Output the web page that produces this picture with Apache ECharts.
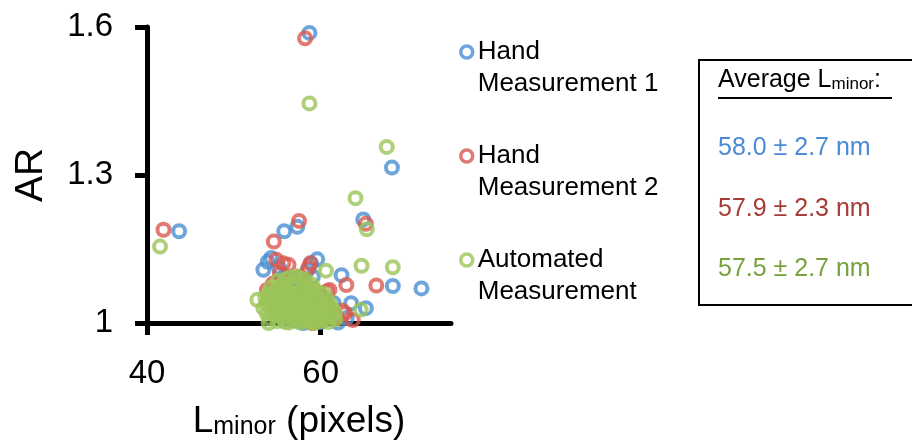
<!DOCTYPE html>
<html>
<head>
<meta charset="utf-8">
<script src="https://cdn.jsdelivr.net/npm/echarts@6/dist/echarts.min.js"></script>
<style>
html,body{margin:0;padding:0;background:#fff;}
#chart{width:912px;height:446px;}
</style>
</head>
<body>
<div id="chart"></div>
<script>
// ---- Data ----
const seriesNames = ['Hand\nMeasurement 1', 'Hand\nMeasurement 2', 'Automated\nMeasurement'];
const xTicks = [40, 60];
const yTicks = [1, 1.3, 1.6];
const averageTitle = 'Average L';
const averageLines = ['58.0 ± 2.7 nm', '57.9 ± 2.3 nm', '57.5 ± 2.7 nm'];

const hand1 = [
  [58.7,1.588],[68.2,1.315],[43.7,1.186],[64.9,1.210],[55.8,1.186],[57.3,1.195],
  [68.3,1.075],[71.6,1.070],[62.4,1.097],[63.5,1.040],[65.2,1.030],[62.0,1.001],
  [53.4,1.108],[53.9,1.124],[54.3,1.132],[59.6,1.129],[58.9,1.121],[58.5,1.107],
  [59.1,1.094],[55.2,1.112],[56.8,1.088],[57.8,1.083],[55.8,1.095],[56.0,1.078],
  [57.0,1.068],[58.1,1.060],[55.5,1.050],[56.5,1.040],[57.5,1.030],[58.5,1.020],
  [59.6,1.041],[60.5,1.031],[61.0,1.015],[55.0,1.020],[56.0,1.010],[57.0,1.005],
  [58.0,1.000],[59.0,1.010],[60.0,1.002],[54.5,1.062],[60.0,1.052],[61.5,1.040],
  [63.0,1.010]
];
const hand2 = [
  [58.2,1.577],[41.9,1.189],[57.5,1.207],[54.6,1.165],[65.2,1.201],[66.4,1.076],
  [62.95,1.077],[60.7,1.064],[54.9,1.128],[55.7,1.121],[56.3,1.118],[58.8,1.121],
  [55.3,1.100],[57.6,1.094],[62.8,1.020],[63.7,1.006],[53.8,1.067],[61.0,1.067],
  [60.1,1.043],[61.9,1.010],[58.6,1.112],[56.0,1.085],[57.0,1.078],[58.0,1.070],
  [59.0,1.060],[60.0,1.055],[60.5,1.040],[61.0,1.030],[61.5,1.012],[60.0,1.005],
  [59.0,1.000],[56.5,1.060],[55.5,1.070],[54.5,1.080],[57.5,1.050],[58.5,1.040],
  [56.0,1.030],[55.0,1.040],[57.0,1.010],[58.0,1.020],[59.5,1.025],[60.8,1.016],
  [62.5,1.025]
];
const automated = [
  [58.7,1.445],[67.6,1.357],[64.0,1.253],[65.3,1.190],[41.5,1.155],[64.7,1.116],
  [68.3,1.113],[60.6,1.106],[52.7,1.047],[64.6,1.027],[61.7,1.008],[53.4,1.030],
  [53.8,1.019],
  [55.1,1.086],[55.9,1.088],[56.7,1.083],[57.3,1.081],[58.2,1.079],[54.3,1.072],
  [55.4,1.074],[56.1,1.069],[57.0,1.071],[57.9,1.066],[58.8,1.070],[59.6,1.062],
  [54.0,1.060],[54.9,1.057],[55.7,1.061],[56.5,1.055],[57.4,1.058],[58.3,1.052],
  [59.1,1.056],[60.1,1.049],[53.9,1.046],[54.6,1.042],[55.3,1.048],[56.2,1.044],
  [57.0,1.039],[57.8,1.045],[58.6,1.041],[59.4,1.038],[60.4,1.036],[54.2,1.033],
  [55.0,1.029],[55.8,1.034],[56.6,1.027],[57.5,1.031],[58.3,1.026],[59.0,1.030],
  [59.9,1.024],[60.8,1.027],[54.5,1.018],[55.4,1.015],[56.2,1.020],[57.1,1.013],
  [57.9,1.017],[58.7,1.011],[59.6,1.016],[60.3,1.012],[61.1,1.018],[55.0,1.004],
  [55.9,1.002],[56.8,1.006],[57.6,1.001],[58.5,1.003],[59.3,1.000],[60.1,1.004],
  [60.9,1.002],[56.4,1.092],[57.7,1.090],[59.0,1.078],[60.7,1.050],[61.3,1.030],
  [61.4,1.012],[54.1,1.009],[56.0,1.076],[58.0,1.035],[57.2,1.022],
  [54.7,1.065],[55.6,1.080],[56.3,1.062],[57.1,1.050],[58.0,1.058],[58.9,1.047],
  [59.8,1.033],[60.5,1.020],[59.5,1.006],[58.1,1.008],[56.9,1.035],[56.0,1.024],
  [55.2,1.037],[54.4,1.050],[53.7,1.038],[55.6,1.009],[56.3,1.001],[57.3,1.044],
  [58.4,1.015],[59.2,1.021],[60.0,1.040],[57.6,1.064],[56.8,1.074],[55.0,1.068],
  [54.8,1.025],[57.4,1.007],[58.8,1.033],[59.7,1.048],[61.6,1.022],[53.6,1.052],
  [55.7,1.052],[56.9,1.018],[58.2,1.088],[59.3,1.068],[60.3,1.060],[61.0,1.040],
  [54.0,1.000],[58.9,1.002],[60.6,1.008],[57.2,1.095]
];

// ---- Styling ----
const FONT = '"Liberation Sans", Arial, sans-serif';
const markerColors = ['#4a90d2', '#d9594f', '#9bc459'];
const textColors = ['#4a8ad6', '#a53c37', '#76a13c'];

function scatter(name, data, color) {
  return {
    type: 'scatter',
    name: name,
    data: data,
    symbol: 'circle',
    symbolSize: 12,
    itemStyle: { color: 'transparent', borderColor: color, borderWidth: 4 },
    emphasis: { disabled: true }
  };
}

const chart = echarts.init(document.getElementById('chart'), null, { renderer: 'canvas' });
chart.setOption({
  animation: false,
  backgroundColor: '#ffffff',
  grid: { left: 147, top: 27, width: 304, height: 296, containLabel: false },
  xAxis: {
    type: 'value', min: 40, max: 75, interval: 20,
    name: '{m|L}{s|minor}{m| (pixels)}',
    nameLocation: 'middle', nameGap: 80,
    nameTextStyle: {
      fontFamily: FONT, color: '#000',
      rich: {
        m: { fontSize: 37, fontFamily: FONT, color: '#000', verticalAlign: 'bottom' },
        s: { fontSize: 25, fontFamily: FONT, color: '#000', verticalAlign: 'bottom' }
      }
    },
    splitLine: { show: false },
    axisLine: { show: true, onZero: false, lineStyle: { color: '#000', width: 5 } },
    axisTick: { show: true, inside: false, length: 12, customValues: xTicks, lineStyle: { color: '#000', width: 5 } },
    axisLabel: { customValues: xTicks, fontSize: 33, fontFamily: FONT, color: '#000', margin: 34 }
  },
  yAxis: {
    type: 'value', min: 1, max: 1.6, interval: 0.3,
    name: 'AR', nameLocation: 'middle', nameGap: 96, nameRotate: 90,
    nameTextStyle: { fontSize: 39, fontFamily: FONT, color: '#000' },
    splitLine: { show: false },
    axisLine: { show: true, onZero: false, lineStyle: { color: '#000', width: 5 } },
    axisTick: { show: true, inside: false, length: 12, customValues: yTicks, lineStyle: { color: '#000', width: 5 } },
    axisLabel: { customValues: yTicks, fontSize: 33, fontFamily: FONT, color: '#000', margin: 34 }
  },
  legend: {
    orient: 'vertical', left: 459, top: 4, padding: 0, itemGap: 8,
    itemWidth: 12, itemHeight: 12, icon: 'circle',
    itemStyle: { borderWidth: 3.5, color: 'transparent' },
    selectedMode: false,
    formatter: function (name) { return ' \n' + name; },
    textStyle: { fontSize: 26, fontFamily: FONT, color: '#000', lineHeight: 32 },
    data: seriesNames
  },
  series: [
    scatter(seriesNames[0], hand1, markerColors[0]),
    scatter(seriesNames[1], hand2, markerColors[1]),
    scatter(seriesNames[2], automated, markerColors[2])
  ],
  graphic: [
    { type: 'polyline', shape: { points: [[925, 60], [699, 60], [699, 305], [925, 305]] },
      style: { fill: 'none', stroke: '#000', lineWidth: 2 }, silent: true },
    { type: 'text', x: 718, y: 93, silent: true,
      style: { text: '{m|' + averageTitle + '}{s|minor}{m|:}', verticalAlign: 'bottom',
        rich: {
          m: { fontSize: 25, fontFamily: FONT, fill: '#000', verticalAlign: 'bottom' },
          s: { fontSize: 17, fontFamily: FONT, fill: '#000', verticalAlign: 'bottom' }
        } } },
    { type: 'line', shape: { x1: 718, y1: 98, x2: 892, y2: 98 }, style: { stroke: '#000', lineWidth: 2 }, silent: true },
    { type: 'text', x: 718, y: 148, silent: true,
      style: { text: averageLines[0], fontSize: 25, fontFamily: FONT, fill: textColors[0], verticalAlign: 'middle' } },
    { type: 'text', x: 718, y: 209, silent: true,
      style: { text: averageLines[1], fontSize: 25, fontFamily: FONT, fill: textColors[1], verticalAlign: 'middle' } },
    { type: 'text', x: 718, y: 269, silent: true,
      style: { text: averageLines[2], fontSize: 25, fontFamily: FONT, fill: textColors[2], verticalAlign: 'middle' } }
  ]
});
</script>
</body>
</html>
